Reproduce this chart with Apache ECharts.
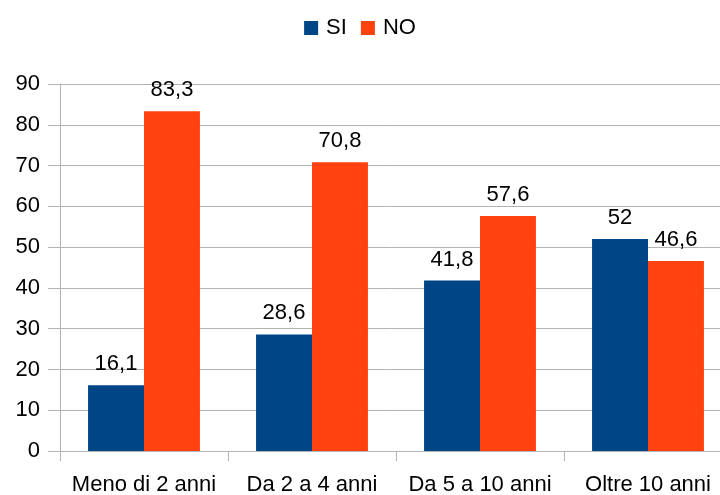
<!DOCTYPE html>
<html><head><meta charset="utf-8">
<script src="https://cdn.jsdelivr.net/npm/echarts@6/dist/echarts.min.js"></script>
<style>html,body{margin:0;padding:0;background:#fff}#c{width:720px;height:495px}</style>
</head><body><div id="c"></div>
<script>
const categories = ["Meno di 2 anni", "Da 2 a 4 anni", "Da 5 a 10 anni", "Oltre 10 anni"];
const siValues = [16.1, 28.6, 41.8, 52];
const noValues = [83.3, 70.8, 57.6, 46.6];
const seriesNames = ["SI", "NO"];
const font = "'Liberation Sans', Arial, sans-serif";
const fmt = p => String(p.value).replace('.', ',');
const chart = echarts.init(document.getElementById('c'), null, {renderer: 'canvas'});
chart.setOption({
  animation: false,
  textStyle: {fontFamily: font},
  legend: {
    top: 12, left: 'center', itemWidth: 14, itemHeight: 14, itemGap: 14,
    icon: 'rect',
    textStyle: {fontFamily: font, fontSize: 22, color: '#000', padding: [0, 0, 0, 3]},
    data: seriesNames
  },
  grid: {left: 60, width: 672, top: 84, bottom: 44, containLabel: false, outerBoundsMode: 'none'},
  xAxis: {
    type: 'category', data: categories,
    axisLine: {show: true, lineStyle: {color: '#b3b3b3'}},
    axisTick: {show: true, length: 10, interval: 0, lineStyle: {color: '#b3b3b3'}},
    axisLabel: {fontFamily: font, fontSize: 22, color: '#000', margin: 23, interval: 0}
  },
  yAxis: {
    type: 'value', min: 0, max: 90, interval: 10,
    axisLine: {show: true, lineStyle: {color: '#b3b3b3'}},
    axisTick: {show: true, length: 12, inside: false, lineStyle: {color: '#b3b3b3'}},
    splitLine: {show: true, lineStyle: {color: '#b3b3b3'}},
    axisLabel: {fontFamily: font, fontSize: 22, color: '#000', margin: 20}
  },
  series: [
    {name: seriesNames[0], type: 'bar', data: siValues, barWidth: '33.3%', barGap: '0%',
     itemStyle: {color: '#004586'},
     label: {show: true, position: 'top', distance: 10, formatter: fmt, fontFamily: font, fontSize: 22, color: '#000'}},
    {name: seriesNames[1], type: 'bar', data: noValues, barWidth: '33.3%', barGap: '0%',
     itemStyle: {color: '#ff420e'},
     label: {show: true, position: 'top', distance: 10, formatter: fmt, fontFamily: font, fontSize: 22, color: '#000'}}
  ]
});
</script></body></html>
